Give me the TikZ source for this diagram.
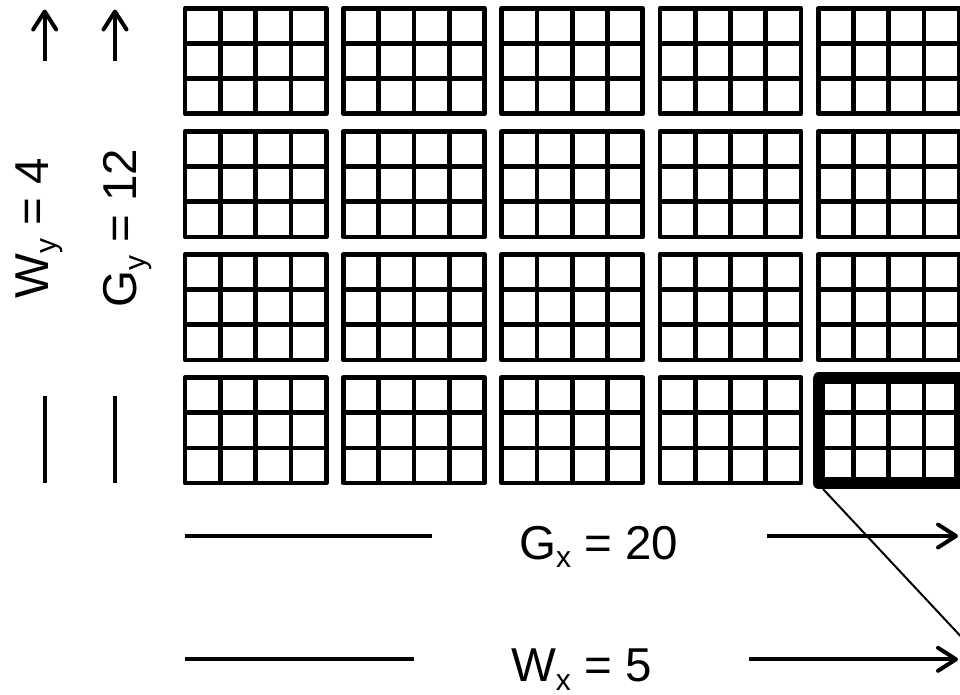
\documentclass[tikz,border=0pt]{standalone}
\usepackage{fontspec}
\setmainfont{Liberation Sans}
\usetikzlibrary{arrows.meta}
\newcommand{\sbx}[1]{\smash{\raisebox{-8.5pt}{\fontsize{30}{30}\selectfont #1}}}
\begin{document}
\begin{tikzpicture}[x=1pt,y=-1pt,
  cellgrid/.style={line width=4.7pt, line join=round},
  hlbox/.style={line width=12pt, line join=round},
  dimline/.style={line width=4pt},
  dimarrow/.style={line width=4pt, -{Straight Barb[length=18pt,width=23pt,round]}},
  lbl/.style={font=\fontsize{47.5}{57}\selectfont, inner sep=0pt, anchor=base},
  zoomline/.style={line width=2pt}]
\useasboundingbox (0,0) rectangle (960,694);
\clip (0,0) rectangle (960,694);
% diagonal zoom line (under the block)
\coordinate (hl) at (823,489);
\coordinate (zoomend) at (1010,689);
\draw[zoomline] (hl) -- (zoomend);
% grid of blocks
\foreach \c in {0,...,4}{
 \foreach \r in {0,...,3}{
   \pgfmathsetmacro\bx{185+158.3*\c}
   \pgfmathsetmacro\by{8.2+123.1*\r}
   \fill[white] (\bx,\by) rectangle ++(141.2,105.6);
   \draw[cellgrid] (\bx,\by) rectangle ++(141.2,105.6);
   \foreach \i in {1,2,3} \draw[cellgrid] (\bx+35.3*\i,\by) -- ++(0,105.6);
   \foreach \j in {1,2} \draw[cellgrid] (\bx,\by+35.2*\j) -- ++(141.2,0);
 }}
\draw[hlbox] (818.7,378.3) rectangle ++(141.2,104.8);
% labels
\node[lbl] (gx) at (598.7,559.3) {G\sbx{x} = 20};
\node[lbl] (wx) at (581.3,681.7) {W\sbx{x} = 5};
\node[lbl, rotate=90] (wy) at (48,228.5) {W\sbx{y} = 4};
\node[lbl, rotate=90] (gy) at (136.7,228.3) {G\sbx{y} = 12};
% dimension lines
\coordinate (gxA) at (185,536);
\coordinate (gxB) at (431.7,536);
\coordinate (gxC) at (766.7,536);
\coordinate (gxD) at (958,536);
\draw[dimline] (gxA) -- (gxB);
\draw[dimarrow] (gxC) -- (gxD);
\coordinate (wxA) at (185,659.3);
\coordinate (wxB) at (414,659.3);
\coordinate (wxC) at (749,659.3);
\coordinate (wxD) at (958,659.3);
\draw[dimline] (wxA) -- (wxB);
\draw[dimarrow] (wxC) -- (wxD);
\coordinate (wyA) at (44.7,483.3);
\coordinate (wyB) at (44.7,395.7);
\coordinate (wyC) at (44.7,61);
\coordinate (wyD) at (44.7,9.5);
\draw[dimline] (wyA) -- (wyB);
\draw[dimarrow] (wyC) -- (wyD);
\coordinate (gyA) at (115,483.3);
\coordinate (gyB) at (115,395.7);
\coordinate (gyC) at (115,61);
\coordinate (gyD) at (115,9.5);
\draw[dimline] (gyA) -- (gyB);
\draw[dimarrow] (gyC) -- (gyD);
\end{tikzpicture}
\end{document}
